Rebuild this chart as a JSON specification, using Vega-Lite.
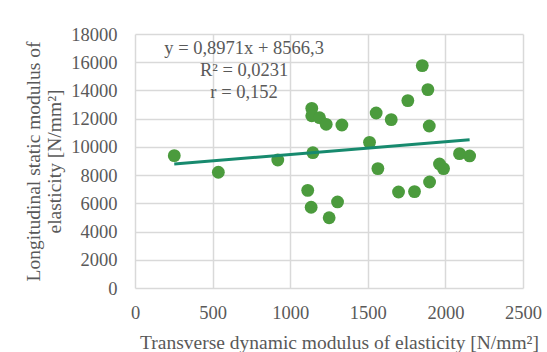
{
  "$schema": "https://vega.github.io/schema/vega-lite/v6.json",
  "autosize": "none",
  "width": 388,
  "height": 254,
  "padding": {"left": 135, "top": 34, "right": 24, "bottom": 64},
  "background": "white",
  "config": {
    "view": {"stroke": null},
    "font": "Liberation Serif",
    "axis": {
      "labelFont": "Liberation Serif",
      "titleFont": "Liberation Serif",
      "labelColor": "#595959",
      "titleColor": "#595959",
      "labelFontSize": 18.5,
      "titleFontSize": 19.5,
      "titleFontWeight": "normal",
      "gridColor": "#d9d9d9",
      "gridWidth": 1.5,
      "domain": false,
      "ticks": false,
      "labelOverlap": false,
      "labelFlush": false,
      "format": "d"
    }
  },
  "datasets": {
    "points": [
      {"x": 253, "y": 9380},
      {"x": 537, "y": 8200},
      {"x": 920, "y": 9070},
      {"x": 1139, "y": 12730},
      {"x": 1139, "y": 12210},
      {"x": 1189, "y": 12070},
      {"x": 1232, "y": 11600},
      {"x": 1333, "y": 11550},
      {"x": 1146, "y": 9590},
      {"x": 1113, "y": 6920},
      {"x": 1135, "y": 5720},
      {"x": 1251, "y": 4980},
      {"x": 1305, "y": 6100},
      {"x": 1511, "y": 10320},
      {"x": 1554, "y": 12400},
      {"x": 1565, "y": 8460},
      {"x": 1651, "y": 11930},
      {"x": 1758, "y": 13280},
      {"x": 1851, "y": 15760},
      {"x": 1887, "y": 14060},
      {"x": 1896, "y": 11480},
      {"x": 1698, "y": 6800},
      {"x": 1801, "y": 6830},
      {"x": 1898, "y": 7510},
      {"x": 1962, "y": 8790},
      {"x": 1988, "y": 8460},
      {"x": 2091, "y": 9520},
      {"x": 2156, "y": 9360}
    ],
    "trend": [
      {"x": 253, "y": 8793},
      {"x": 2156, "y": 10500}
    ],
    "label": [
      {"x": 703, "y": 17000, "text": ["y = 0,8971x + 8566,3", "R² = 0,0231", "r = 0,152"]}
    ]
  },
  "encoding": {
    "x": {
      "field": "x", "type": "quantitative",
      "scale": {"domain": [0, 2500], "nice": false},
      "axis": {"values": [0, 500, 1000, 1500, 2000, 2500], "labelPadding": 15, "title": "Transverse dynamic modulus of elasticity [N/mm²]", "titlePadding": 12, "titleX": 204}
    },
    "y": {
      "field": "y", "type": "quantitative",
      "scale": {"domain": [0, 18000], "nice": false},
      "axis": {"values": [0, 2000, 4000, 6000, 8000, 10000, 12000, 14000, 16000, 18000], "labelPadding": 18, "title": ["Longitudinal static modulus of", "elasticity [N/mm²]"], "titlePadding": 6, "titleLineHeight": 21}
    }
  },
  "layer": [
    {
      "data": {"name": "points"},
      "mark": {"type": "point", "filled": true, "size": 165, "color": "#4b9b3d", "opacity": 1}
    },
    {
      "data": {"name": "trend"},
      "mark": {"type": "line", "color": "#178a6e", "strokeWidth": 3}
    },
    {
      "data": {"name": "label"},
      "mark": {"type": "text", "font": "Liberation Serif", "fontSize": 18.5, "color": "#595959", "align": "center", "baseline": "middle", "lineHeight": 22},
      "encoding": {
        "text": {"field": "text"}
      }
    }
  ]
}
